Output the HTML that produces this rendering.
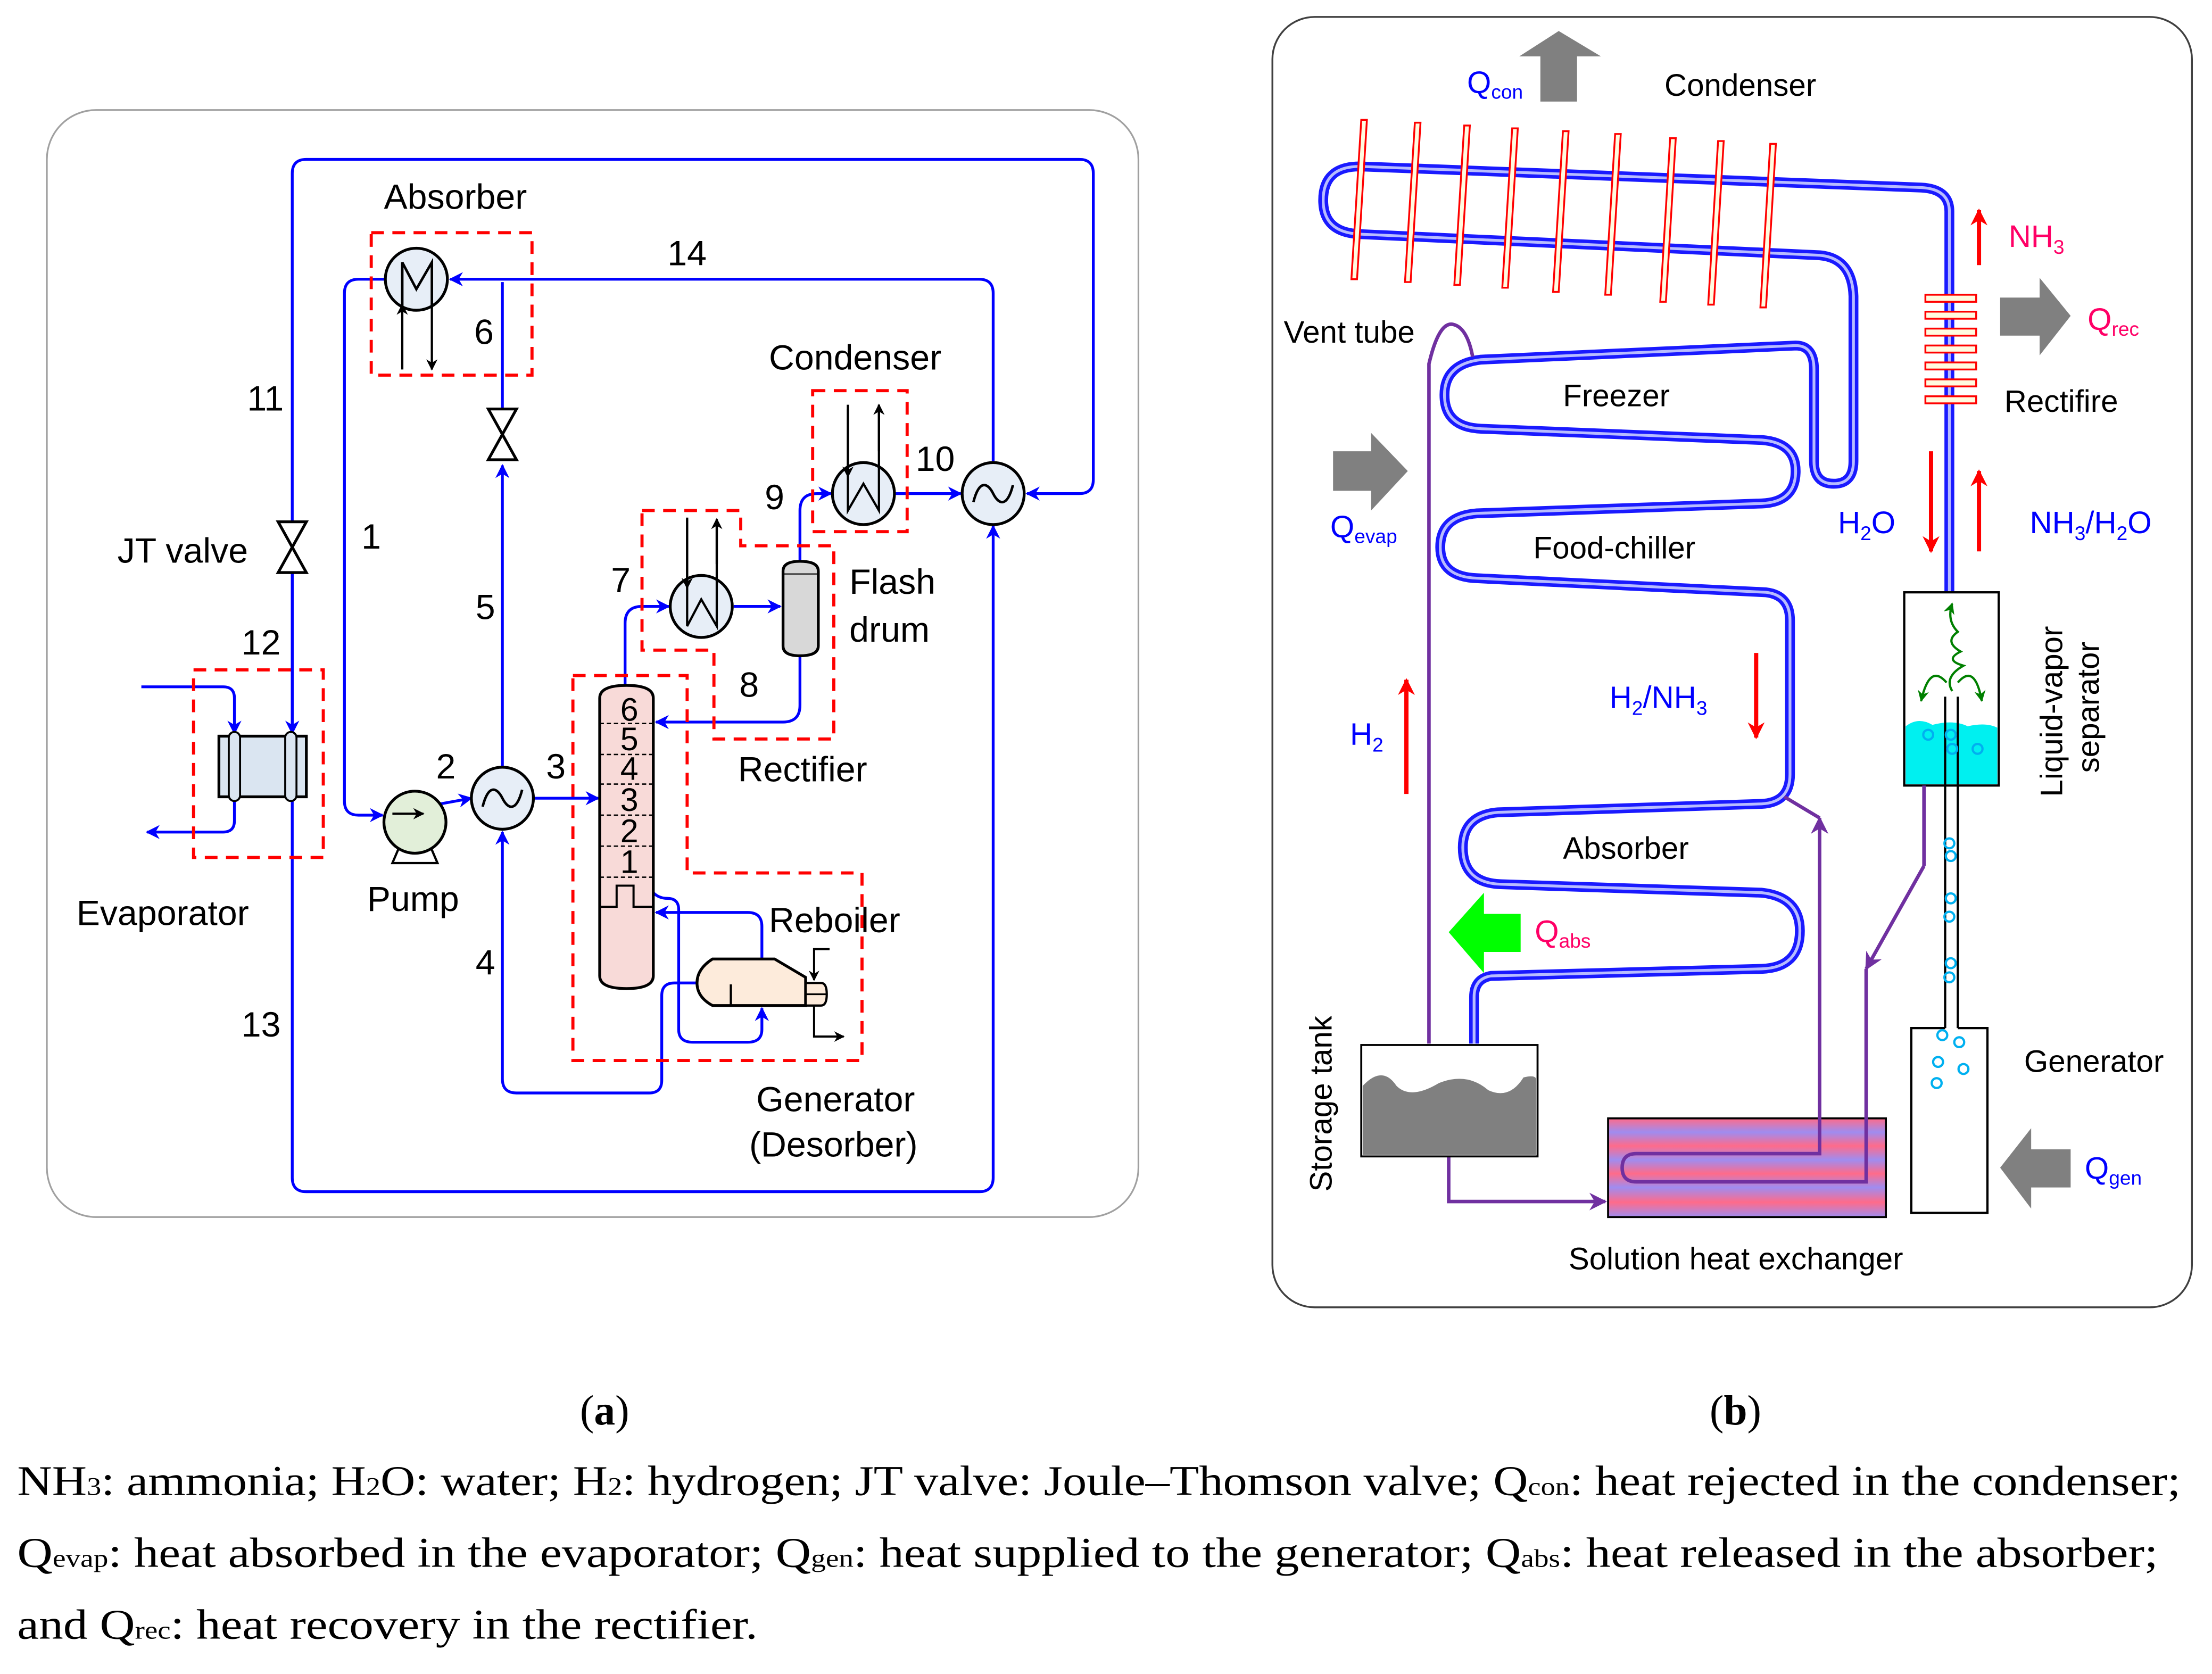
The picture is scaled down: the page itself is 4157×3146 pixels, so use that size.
<!DOCTYPE html>
<html><head><meta charset="utf-8"><style>
html,body{margin:0;padding:0;background:#fff;}
svg{display:block;}
</style></head><body>
<svg width="4157" height="3146" viewBox="0 0 1568 1187" xmlns="http://www.w3.org/2000/svg" font-family="Liberation Sans, sans-serif">
<defs>
<marker id="ab" viewBox="0 0 10 10" refX="9" refY="5" markerWidth="5" markerHeight="5" orient="auto"><path d="M0,0 L10,5 L0,10 L3,5 z" fill="#0000ff"/></marker>
<marker id="ak" viewBox="0 0 10 10" refX="9" refY="5" markerWidth="5" markerHeight="5" orient="auto"><path d="M0,0 L10,5 L0,10 L3,5 z" fill="#000"/></marker>
<marker id="ap" viewBox="0 0 10 10" refX="9" refY="5" markerWidth="5" markerHeight="5" orient="auto"><path d="M0,0 L10,5 L0,10 L3,5 z" fill="#7030a0"/></marker>
<marker id="ar" viewBox="0 0 10 10" refX="9" refY="5" markerWidth="4" markerHeight="4" orient="auto"><path d="M0,0 L10,5 L0,10 L3,5 z" fill="#ff0000"/></marker>
<marker id="ag" viewBox="0 0 10 10" refX="9" refY="5" markerWidth="5" markerHeight="5" orient="auto"><path d="M0,0 L10,5 L0,10 L3,5 z" fill="#008000"/></marker>
<linearGradient id="shx" x1="0" y1="0" x2="0" y2="1">
<stop offset="0" stop-color="#ff6b8a"/><stop offset="0.14" stop-color="#9f8cf0"/><stop offset="0.28" stop-color="#ff6b8a"/><stop offset="0.42" stop-color="#9f8cf0"/><stop offset="0.56" stop-color="#ff6b8a"/><stop offset="0.7" stop-color="#9f8cf0"/><stop offset="0.85" stop-color="#ff6b8a"/><stop offset="1" stop-color="#9f8cf0"/>
</linearGradient>
</defs>

<!-- ================= PANEL A ================= -->
<rect x="33" y="78" width="774" height="785" rx="35" fill="none" stroke="#a0a0a0" stroke-width="1.2"/>

<g fill="none" stroke="#0000ff" stroke-width="2">
<path d="M207,370 V123 Q207,113 217,113 H765 Q775,113 775,123 V340 Q775,350 765,350 H728" marker-end="url(#ab)"/>
<path d="M207,406 V835 Q207,845 217,845 H694 Q704,845 704,835 V373" marker-end="url(#ab)"/>
<path d="M207,406 V520" marker-end="url(#ab)"/>
<path d="M704,327 V208 Q704,198 694,198 H319" marker-end="url(#ab)"/>
<path d="M273,198 H254 Q244,198 244,208 V568 Q244,578 254,578 H271" marker-end="url(#ab)"/>
<path d="M312,570 L334,566" marker-end="url(#ab)"/>
<path d="M356,544 V330" marker-end="url(#ab)"/>
<path d="M356,290 V200"/>
<path d="M378,566 H424" marker-end="url(#ab)"/>
<path d="M494,697 H478 Q469,697 469,706 V766 Q469,775 460,775 H366 Q356,775 356,765 V590" marker-end="url(#ab)"/>
<path d="M443,486 V442 Q443,430 455,430 H474" marker-end="url(#ab)"/>
<path d="M520,430 H553" marker-end="url(#ab)"/>
<path d="M567,465 V500 Q567,512 555,512 H465" marker-end="url(#ab)"/>
<path d="M567,398 V362 Q567,350 579,350 H589" marker-end="url(#ab)"/>
<path d="M635,350 H681" marker-end="url(#ab)"/>
<path d="M463,633 Q467,637 473,637 Q481,637 481,645 V730 Q481,739 491,739 H530 Q540,739 540,730 V715" marker-end="url(#ab)"/>
<path d="M540,680 V657 Q540,647 530,647 H465" marker-end="url(#ab)"/>
<path d="M100,487 H158 Q166,487 166,495 V520" marker-end="url(#ab)"/>
<path d="M166,565 V582 Q166,590 158,590 H104" marker-end="url(#ab)"/>
</g>

<g fill="none" stroke="#ff0000" stroke-width="2.2" stroke-dasharray="9,6">
<rect x="263" y="165" width="114" height="101"/>
<rect x="137" y="475" width="92" height="133"/>
<rect x="576" y="277" width="67" height="100"/>
<path d="M455,362 H525 V387 H591 V524 H506 V461 H455 Z"/>
<path d="M406,479 H487 V619 H611 V752 H406 Z"/>
</g>

<circle cx="295" cy="198" r="22" fill="#e7eef7" stroke="#000" stroke-width="2"/>
<path d="M285,218 V186 L295,205 L306,186 V218" fill="none" stroke="#000" stroke-width="1.8"/>
<line x1="285" y1="262" x2="285" y2="216" stroke="#000" stroke-width="1.6" marker-end="url(#ak)"/>
<line x1="306" y1="215" x2="306" y2="262" stroke="#000" stroke-width="1.6" marker-end="url(#ak)"/>

<g stroke="#000" stroke-width="2">
<circle cx="497" cy="430" r="22" fill="#e7eef7"/>
<circle cx="612" cy="350" r="22" fill="#e7eef7"/>
</g>
<g fill="none" stroke="#000" stroke-width="1.6">
<path d="M487,367 V444 L497,425 L508,444 V372"/>
<path d="M601,287 V362 L612,343 L623,362 V290"/>
</g>
<line x1="487" y1="368" x2="487" y2="417" stroke="#000" stroke-width="1.6" marker-end="url(#ak)"/>
<line x1="508" y1="400" x2="508" y2="368" stroke="#000" stroke-width="1.6" marker-end="url(#ak)"/>
<line x1="601" y1="290" x2="601" y2="338" stroke="#000" stroke-width="1.6" marker-end="url(#ak)"/>
<line x1="623" y1="320" x2="623" y2="287" stroke="#000" stroke-width="1.6" marker-end="url(#ak)"/>

<circle cx="356" cy="566" r="22" fill="#e7eef7" stroke="#000" stroke-width="2"/>
<path d="M342,572 C346,556 352,558 356,566 C360,574 366,576 370,560" fill="none" stroke="#000" stroke-width="1.8"/>
<circle cx="704" cy="350" r="22" fill="#e7eef7" stroke="#000" stroke-width="2"/>
<path d="M690,356 C694,340 700,342 704,350 C708,358 714,360 718,344" fill="none" stroke="#000" stroke-width="1.8"/>

<path d="M346,290 L366,290 L346,326 L366,326 Z" fill="#fff" stroke="#000" stroke-width="2"/>
<path d="M197,370 L217,370 L197,406 L217,406 Z" fill="#fff" stroke="#000" stroke-width="2"/>

<path d="M278,612 L284,598 L304,598 L310,612 Z" fill="#fff" stroke="#000" stroke-width="1.6"/>
<circle cx="294" cy="583" r="22" fill="#e2efd9" stroke="#000" stroke-width="2"/>
<line x1="278" y1="577" x2="300" y2="577" stroke="#000" stroke-width="1.6" marker-end="url(#ak)"/>

<path d="M555,405 Q555,398 567,398 Q580,398 580,405 V458 Q580,465 567,465 Q555,465 555,458 Z" fill="#d8d8d8" stroke="#000" stroke-width="2"/>
<line x1="555" y1="407" x2="580" y2="407" stroke="#000" stroke-width="0.8"/>

<path d="M425,495 Q425,486 444,486 Q463,486 463,495 V692 Q463,701 444,701 Q425,701 425,692 Z" fill="#f8dad8" stroke="#000" stroke-width="2"/>
<g stroke="#000" stroke-width="1" stroke-dasharray="3,2">
<line x1="425" y1="513" x2="463" y2="513"/><line x1="425" y1="535" x2="463" y2="535"/>
<line x1="425" y1="556" x2="463" y2="556"/><line x1="425" y1="578" x2="463" y2="578"/>
<line x1="425" y1="600" x2="463" y2="600"/><line x1="425" y1="622" x2="463" y2="622"/>
</g>
<path d="M425,643 H437 V628 H449 V643 H463" fill="none" stroke="#000" stroke-width="1.5"/>
<g font-size="23" text-anchor="middle">
<text x="446" y="511">6</text><text x="446" y="532">5</text><text x="446" y="553">4</text>
<text x="446" y="575">3</text><text x="446" y="597">2</text><text x="446" y="619">1</text>
</g>

<path d="M505,680 H549 L571,693 V713 H505 Q494,707 494,697 Q494,687 505,680 Z" fill="#fdebdb" stroke="#000" stroke-width="2"/>
<path d="M571,697 H582 Q586,697 586,705 Q586,713 582,713 H571 Z" fill="#fdebdb" stroke="#000" stroke-width="1.6"/>
<line x1="571" y1="705" x2="586" y2="705" stroke="#000" stroke-width="1.2"/>
<line x1="518" y1="698" x2="518" y2="713" stroke="#000" stroke-width="1.6"/>
<path d="M588,673 H577 V695" fill="none" stroke="#000" stroke-width="1.5" marker-end="url(#ak)"/>
<path d="M577,713 V735 H598" fill="none" stroke="#000" stroke-width="1.5" marker-end="url(#ak)"/>

<rect x="155" y="522" width="62" height="43" fill="#dae5f1" stroke="#000" stroke-width="2"/>
<rect x="162" y="519" width="8" height="49" rx="4" fill="#dae5f1" stroke="#000" stroke-width="1.4"/>
<rect x="202" y="519" width="8" height="49" rx="4" fill="#dae5f1" stroke="#000" stroke-width="1.4"/>

<g font-size="25">
<text x="272" y="148">Absorber</text>
<text x="545" y="262">Condenser</text>
<text x="602" y="421">Flash</text><text x="602" y="455">drum</text>
<text x="523" y="554">Rectifier</text>
<text x="545" y="661">Reboiler</text>
<text x="536" y="788">Generator</text>
<text x="531" y="820">(Desorber)</text>
<text x="54" y="656">Evaporator</text>
<text x="260" y="646">Pump</text>
<text x="83" y="399">JT valve</text>
<text x="473" y="188">14</text>
<text x="336" y="244">6</text>
<text x="175" y="291">11</text>
<text x="649" y="334">10</text>
<text x="542" y="361">9</text>
<text x="433" y="420">7</text>
<text x="524" y="494">8</text>
<text x="256" y="389">1</text>
<text x="337" y="439">5</text>
<text x="171" y="464">12</text>
<text x="309" y="552">2</text>
<text x="387" y="552">3</text>
<text x="337" y="691">4</text>
<text x="171" y="735">13</text>
</g>

<!-- ================= PANEL B ================= -->
<rect x="902" y="12" width="652" height="915" rx="30" fill="none" stroke="#404040" stroke-width="1.3"/>

<g fill="none" stroke-linecap="butt" stroke-linejoin="round">
<path stroke="#1a1aff" stroke-width="7" d="M1382,420 V150 Q1382,134 1362,133 L964,118 Q938,118 938,142 Q938,165 964,166 L1290,181 Q1313,183 1314,210 V327 Q1314,343 1300,343 Q1286,343 1286,327 V262 Q1286,245 1273,245 L1050,255 Q1024,258 1024,280 Q1024,303 1050,304 L1249,312 Q1273,314 1273,334 Q1273,356 1249,357 L1047,364 Q1021,366 1021,388 Q1021,409 1047,410 L1252,420 Q1269,422 1269,440 V549 Q1269,569 1249,570 L1062,576 Q1037,578 1037,601 Q1037,626 1064,627 L1249,633 Q1276,636 1276,660 Q1276,686 1249,687 L1057,692 Q1045,694 1045,707 V740"/>
<path stroke="#b8bcff" stroke-width="2" d="M1382,420 V150 Q1382,134 1362,133 L964,118 Q938,118 938,142 Q938,165 964,166 L1290,181 Q1313,183 1314,210 V327 Q1314,343 1300,343 Q1286,343 1286,327 V262 Q1286,245 1273,245 L1050,255 Q1024,258 1024,280 Q1024,303 1050,304 L1249,312 Q1273,314 1273,334 Q1273,356 1249,357 L1047,364 Q1021,366 1021,388 Q1021,409 1047,410 L1252,420 Q1269,422 1269,440 V549 Q1269,569 1249,570 L1062,576 Q1037,578 1037,601 Q1037,626 1064,627 L1249,633 Q1276,636 1276,660 Q1276,686 1249,687 L1057,692 Q1045,694 1045,707 V740"/>
</g>

<g fill="#fffbe0" stroke="#ff0000" stroke-width="1.3">
<polygon points="965,85 969,85 962,198 958,198"/>
<polygon points="1003,87 1007,87 1000,200 996,200"/>
<polygon points="1038,89 1042,89 1035,202 1031,202"/>
<polygon points="1072,91 1076,91 1069,204 1065,204"/>
<polygon points="1108,93 1112,93 1105,207 1101,207"/>
<polygon points="1145,95 1149,95 1142,209 1138,209"/>
<polygon points="1184,98 1188,98 1181,214 1177,214"/>
<polygon points="1218,100 1222,100 1215,216 1211,216"/>
<polygon points="1255,102 1259,102 1252,218 1248,218"/>
</g>

<g fill="#fffbe0" stroke="#ff0000" stroke-width="1.3">
<rect x="1365" y="209" width="36" height="5"/><rect x="1365" y="221" width="36" height="5"/>
<rect x="1365" y="233" width="36" height="5"/><rect x="1365" y="245" width="36" height="5"/>
<rect x="1365" y="257" width="36" height="5"/><rect x="1365" y="269" width="36" height="5"/>
<rect x="1365" y="281" width="36" height="5"/>
</g>

<path d="M1013,740 V258 Q1020,228 1030,230 Q1040,232 1044,253" fill="none" stroke="#7030a0" stroke-width="2.5"/>

<rect x="1350" y="420" width="67" height="137" fill="#fff" stroke="#000" stroke-width="1.6"/>
<path d="M1351,515 Q1360,508 1370,514 Q1385,510 1395,515 Q1408,512 1416,516 V556 H1351 Z" fill="#00f0f0"/>
<g fill="none" stroke="#000" stroke-width="1.6">
<path d="M1379,494 V729"/><path d="M1388,494 V729"/>
<path d="M1379,729 H1355 V860 H1409 V729 H1388"/>
</g>
<g fill="none" stroke="#008000" stroke-width="1.6">
<path d="M1384,490 Q1378,480 1392,472 Q1378,468 1390,462 Q1378,455 1388,448 Q1380,440 1384,428" marker-end="url(#ag)"/>
<path d="M1380,484 Q1368,470 1362,497" marker-end="url(#ag)"/>
<path d="M1388,484 Q1400,470 1405,497" marker-end="url(#ag)"/>
</g>
<g fill="none" stroke="#00b0f0" stroke-width="1.6">
<circle cx="1367" cy="521" r="3.5"/><circle cx="1383" cy="521" r="3.5"/><circle cx="1384" cy="531" r="3.5"/><circle cx="1402" cy="531" r="3.5"/>
<circle cx="1382" cy="598" r="3.5"/><circle cx="1383" cy="607" r="3.5"/><circle cx="1383" cy="637" r="3.5"/><circle cx="1382" cy="650" r="3.5"/>
<circle cx="1383" cy="683" r="3.5"/><circle cx="1382" cy="693" r="3.5"/>
<circle cx="1377" cy="734" r="3.5"/><circle cx="1389" cy="739" r="3.5"/><circle cx="1374" cy="753" r="3.5"/><circle cx="1392" cy="758" r="3.5"/><circle cx="1373" cy="768" r="3.5"/>
</g>
<line x1="1364" y1="557" x2="1364" y2="614" stroke="#7030a0" stroke-width="2.5"/>

<rect x="1140" y="793" width="197" height="70" fill="url(#shx)" stroke="#000" stroke-width="1.4"/>
<g fill="none" stroke="#7030a0" stroke-width="2.5">
<path d="M1364,614 L1323,687" marker-end="url(#ap)"/>
<path d="M1323,687 V838 H1160 Q1150,838 1150,828 Q1150,818 1160,818 H1290 V580" marker-end="url(#ap)"/>
<path d="M1290,580 L1265,565"/>
<path d="M1027,820 V852 H1138" marker-end="url(#ap)"/>
</g>

<rect x="965" y="741" width="125" height="79" fill="#fff" stroke="#000" stroke-width="1.4"/>
<path d="M966,770 Q980,755 990,770 Q1000,780 1020,768 Q1040,760 1055,773 Q1070,780 1080,764 Q1088,762 1089,765 V819 H966 Z" fill="#808080"/>

<g fill="#808080">
<polygon points="1092,72 1118,72 1118,40 1135,40 1105,22 1077,40 1092,40"/>
<polygon points="945,320 972,320 972,307 998,334 972,362 972,348 945,348"/>
<polygon points="1418,211 1446,211 1446,197 1468,224 1446,252 1446,238 1418,238"/>
<polygon points="1468,815 1440,815 1440,800 1418,828 1440,857 1440,842 1468,842"/>
</g>
<polygon points="1078,648 1052,648 1052,633 1027,661 1052,690 1052,675 1078,675" fill="#00ff00"/>

<g stroke="#ff0000" stroke-width="3">
<line x1="997" y1="563" x2="997" y2="482" marker-end="url(#ar)"/>
<line x1="1245" y1="463" x2="1245" y2="523" marker-end="url(#ar)"/>
<line x1="1369" y1="320" x2="1369" y2="391" marker-end="url(#ar)"/>
<line x1="1403" y1="391" x2="1403" y2="334" marker-end="url(#ar)"/>
<line x1="1403" y1="188" x2="1403" y2="149" marker-end="url(#ar)"/>
</g>

<g font-size="22">
<text x="1180" y="68">Condenser</text>
<text x="910" y="243">Vent tube</text>
<text x="1108" y="288">Freezer</text>
<text x="1087" y="396">Food-chiller</text>
<text x="1108" y="609">Absorber</text>
<text x="1421" y="292">Rectifire</text>
<text x="1435" y="760">Generator</text>
<text x="1112" y="900">Solution heat exchanger</text>
<text transform="translate(944,845) rotate(-90)">Storage tank</text>
<text transform="translate(1462,565) rotate(-90)">Liquid-vapor</text>
<text transform="translate(1488,548) rotate(-90)">separator</text>
</g>
<g font-size="22" fill="#0000ff">
<text x="1040" y="66">Q<tspan font-size="14" dy="4">con</tspan></text>
<text x="943" y="381">Q<tspan font-size="14" dy="4">evap</tspan></text>
<text x="1478" y="836">Q<tspan font-size="14" dy="4">gen</tspan></text>
<text x="1303" y="378">H<tspan font-size="14" dy="5">2</tspan><tspan dy="-5">O</tspan></text>
<text x="1439" y="378">NH<tspan font-size="14" dy="5">3</tspan><tspan dy="-5">/H</tspan><tspan font-size="14" dy="5">2</tspan><tspan dy="-5">O</tspan></text>
<text x="1141" y="502">H<tspan font-size="14" dy="5">2</tspan><tspan dy="-5">/NH</tspan><tspan font-size="14" dy="5">3</tspan></text>
<text x="957" y="528">H<tspan font-size="14" dy="5">2</tspan></text>
</g>
<g font-size="22" fill="#ff0066">
<text x="1424" y="175">NH<tspan font-size="14" dy="5">3</tspan></text>
<text x="1480" y="234">Q<tspan font-size="14" dy="4">rec</tspan></text>
<text x="1088" y="668">Q<tspan font-size="14" dy="4">abs</tspan></text>
</g>

<g font-size="30" font-family="Liberation Serif, serif">
<text x="411" y="1010">(<tspan font-weight="bold">a</tspan>)</text>
<text x="1212" y="1010">(<tspan font-weight="bold">b</tspan>)</text>
<text x="12" y="1060" textLength="1534" lengthAdjust="spacingAndGlyphs">NH<tspan font-size="18">3</tspan>: ammonia; H<tspan font-size="18">2</tspan>O: water; H<tspan font-size="18">2</tspan>: hydrogen; JT valve: Joule–Thomson valve; Q<tspan font-size="18">con</tspan>: heat rejected in the condenser;</text>
<text x="12" y="1111" textLength="1518" lengthAdjust="spacingAndGlyphs">Q<tspan font-size="18">evap</tspan>: heat absorbed in the evaporator; Q<tspan font-size="18">gen</tspan>: heat supplied to the generator; Q<tspan font-size="18">abs</tspan>: heat released in the absorber;</text>
<text x="12" y="1162" textLength="525" lengthAdjust="spacingAndGlyphs">and Q<tspan font-size="18">rec</tspan>: heat recovery in the rectifier.</text>
</g>
</svg>
</body></html>
